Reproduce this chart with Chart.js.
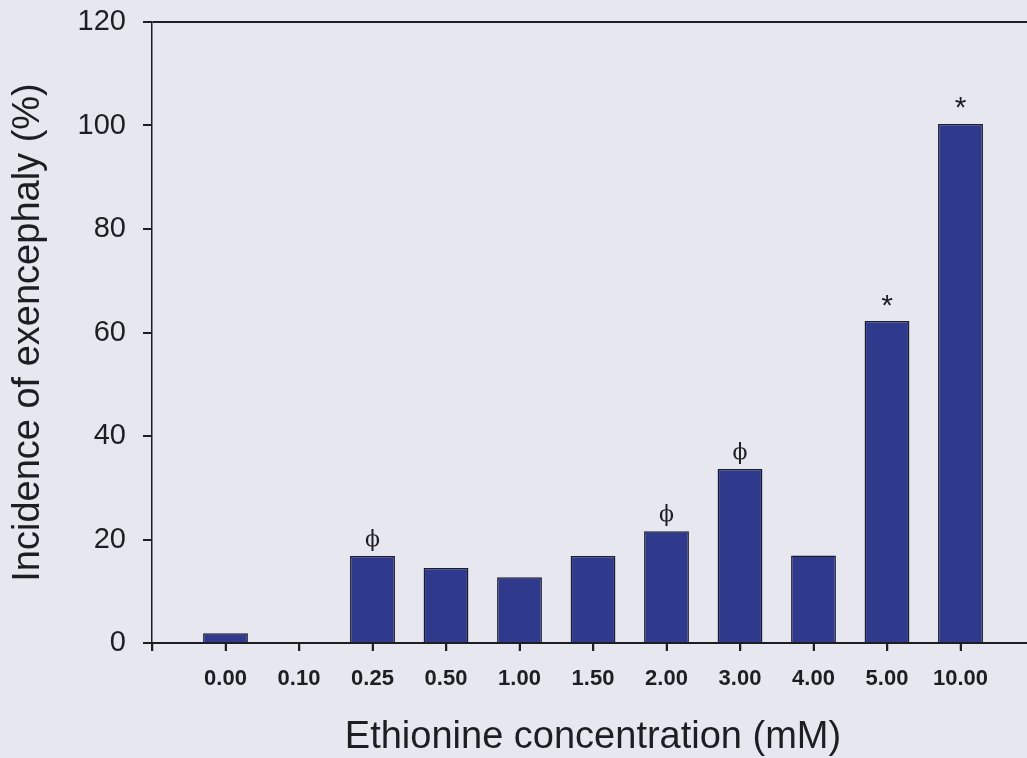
<!DOCTYPE html>
<html>
<head>
<meta charset="utf-8">
<script src="https://cdn.jsdelivr.net/npm/chart.js@4"></script>
<style>
  html, body { margin: 0; padding: 0; background: #e7e7f0; overflow: hidden; }
  canvas { display: block; }
</style>
</head>
<body>
<canvas id="exencephaly" width="1034" height="758"></canvas>
<script>
const concentrations = ['0.00', '0.10', '0.25', '0.50', '1.00', '1.50', '2.00', '3.00', '4.00', '5.00', '10.00'];
const incidence = [1.9, 0, 16.8, 14.5, 12.7, 16.8, 21.6, 33.6, 16.9, 62.2, 100.3];
const marks = ['', '', 'ϕ', '', '', '', 'ϕ', 'ϕ', '', '*', '*'];
const yTicks = [0, 20, 40, 60, 80, 100, 120];

// categories sit on whole-number positions, with half a slot of room at each end
const points = incidence.map((v, i) => ({ x: i, y: v }));

const ink = '#1e1e22';

const markPlugin = {
  id: 'marks',
  afterDraw(chart) {
    const ctx = chart.ctx;
    const xs = chart.scales.x;
    const bars = chart.getDatasetMeta(0).data;
    ctx.save();
    // tick marks under each category
    ctx.strokeStyle = ink;
    ctx.lineWidth = 2;
    ctx.beginPath();
    for (let v = xs.min; v <= xs.max; v++) {
      const px = Math.round(xs.getPixelForValue(v));
      ctx.moveTo(px, xs.top);
      ctx.lineTo(px, xs.top + 8);
    }
    ctx.stroke();
    // significance symbols above bars
    ctx.fillStyle = ink;
    ctx.textAlign = 'center';
    ctx.textBaseline = 'alphabetic';
    bars.forEach((bar, i) => {
      const m = marks[i];
      if (!m) return;
      let gap;
      if (m === '*') {
        ctx.font = '30px "Liberation Sans"';
        gap = 21;
      } else {
        ctx.font = '22px "DejaVu Serif"';
        gap = 16;
      }
      const tm = ctx.measureText(m);
      const mid = (tm.actualBoundingBoxAscent - tm.actualBoundingBoxDescent) / 2;
      ctx.fillText(m, bar.x, bar.y - gap + mid);
    });
    ctx.restore();
  }
};

new Chart(document.getElementById('exencephaly'), {
  type: 'bar',
  data: {
    datasets: [{
      data: points,
      backgroundColor: '#2f3a8c',
      borderColor: '#1c1c30',
      borderWidth: 1.5,
      borderSkipped: 'bottom',
      categoryPercentage: 1,
      barPercentage: 0.61
    }]
  },
  options: {
    responsive: false,
    animation: false,
    layout: { padding: { top: 22, right: 0, left: 0, bottom: 0 } },
    plugins: { legend: { display: false }, tooltip: { enabled: false } },
    scales: {
      x: {
        type: 'linear',
        min: -1,
        max: 11,
        offset: false,
        grid: { offset: false, drawOnChartArea: false, tickLength: 8, tickColor: ink, tickWidth: 1.5 },
        border: { color: ink, width: 2 },
        ticks: {
          stepSize: 1,
          maxTicksLimit: 20,
          autoSkip: false,
          maxRotation: 0,
          padding: 15,
          color: ink,
          font: { family: '"Liberation Sans"', size: 22, weight: 'bold' },
          callback: v => concentrations[v] || ''
        },
        title: {
          display: true,
          text: 'Ethionine concentration (mM)',
          color: ink,
          font: { family: '"Liberation Sans"', size: 38, lineHeight: 1 },
          padding: { top: 0, bottom: 1 }
        },
        afterFit(scale) { scale.height = 115; scale.paddingLeft = 0; scale.paddingRight = 0; }
      },
      y: {
        min: 0,
        max: 120,
        afterBuildTicks(scale) { scale.ticks = yTicks.map(v => ({ value: v })); },
        grid: {
          tickLength: 9,
          tickColor: ink,
          color: ctx => ctx.tick && ctx.tick.value === 120 ? ink : 'rgba(0,0,0,0)',
          lineWidth: 2
        },
        border: { color: ink, width: 1.5 },
        ticks: {
          padding: 17,
          color: ink,
          font: { family: '"Liberation Sans"', size: 29 }
        },
        title: {
          display: true,
          text: 'Incidence of exencephaly (%)',
          color: ink,
          font: { family: '"Liberation Sans"', size: 38, lineHeight: 1 },
          padding: { top: 10, bottom: 0 }
        },
        afterFit(scale) { scale.width = 152; scale.paddingTop = 0; scale.paddingBottom = 0; }
      }
    }
  },
  plugins: [markPlugin]
});
</script>
</body>
</html>
